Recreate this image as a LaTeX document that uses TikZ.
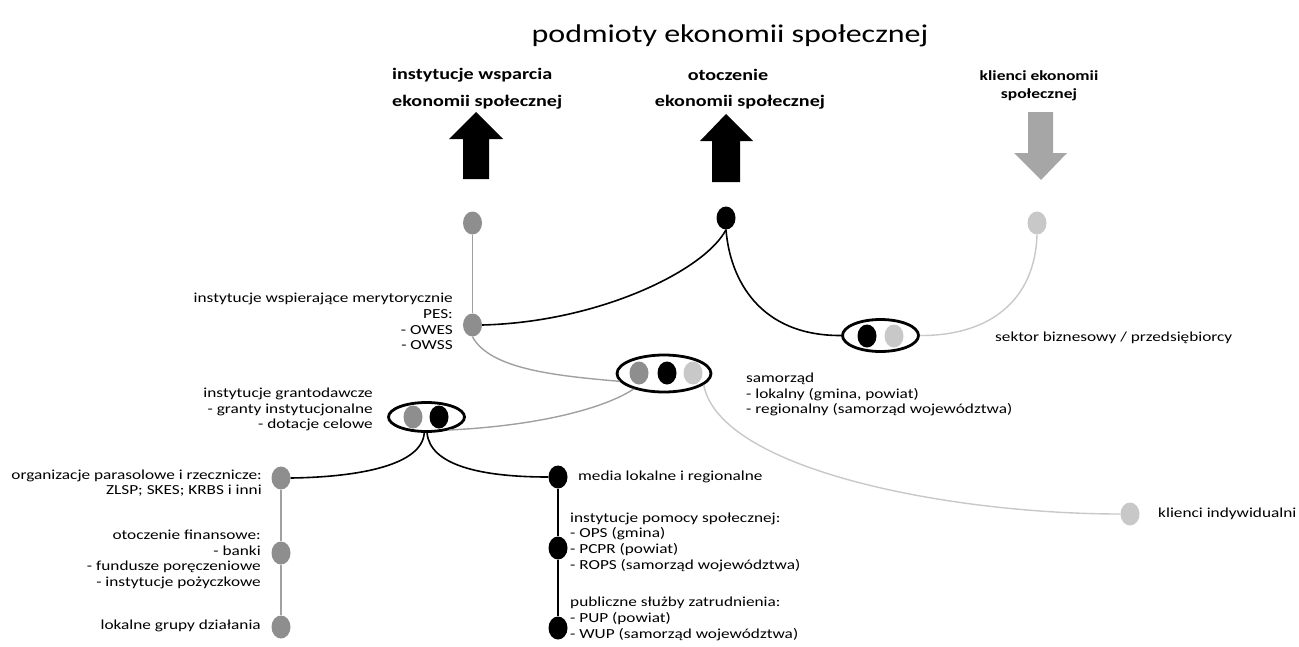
\documentclass[tikz,border=0pt]{standalone}
\usepackage{fontspec}
\setmainfont{Carlito}[FakeStretch=1.25]
\usetikzlibrary{shapes.geometric}
\definecolor{dotgray}{HTML}{8E8E8E}
\definecolor{dotlight}{HTML}{C8C8C8}
\definecolor{linegray}{HTML}{A0A0A0}
\definecolor{linelight}{HTML}{C8C8C8}
\definecolor{arrowgray}{HTML}{A6A6A6}
\begin{document}
\begin{tikzpicture}[x=1pt,y=-1pt,
  dot/.style={ellipse, minimum width=19pt, minimum height=23pt, inner sep=0pt},
  gdot/.style={dot, fill=dotgray},
  bdot/.style={dot, fill=black},
  ldot/.style={dot, fill=dotlight},
  grp/.style={ellipse, draw=black, line width=2.8pt, inner sep=0pt},
  lbl/.style={font=\fontsize{13.8}{15.7}\selectfont, inner sep=0pt},
  hdr/.style={font=\fontsize{16.1}{27}\selectfont\bfseries, inner sep=0pt},
  bline/.style={draw=black, line width=1.6pt},
  gline/.style={draw=linegray, line width=1.4pt},
  lline/.style={draw=linelight, line width=1.4pt},
  bigarrow/.style={fill=black}
]
\useasboundingbox (0,0) rectangle (1299,646);
\clip (0,0) rectangle (1299,646);

% title
\node[inner sep=0pt, font=\fontsize{25.6}{30}\selectfont] (title) at (730,36) {podmioty ekonomii społecznej};

% headers
\node[hdr, anchor=west, align=left] (h1) at (392,88.5) {instytucje wsparcia\\ekonomii społecznej};
\node[hdr] (h2a) at (728,75) {otoczenie};
\node[hdr] (h2b) at (740,102) {ekonomii społecznej};
\node[hdr, font=\fontsize{14}{18}\selectfont\bfseries, align=center] (h3) at (1039,86) {klienci ekonomii\\społecznej};

% big arrows
\fill[bigarrow] (463,179) -- (463,139) -- (449,139) -- (476,112) -- (503,139) -- (489,139) -- (489,179) -- cycle;
\fill[bigarrow] (712,182) -- (712,141) -- (700,141) -- (726,114) -- (753,141) -- (740,141) -- (740,182) -- cycle;
\fill[arrowgray] (1028,112) -- (1028,153) -- (1014,153) -- (1041,180) -- (1067,153) -- (1053,153) -- (1053,112) -- cycle;

% top dots
\node[gdot] (d1) at (472.5,223) {};
\node[bdot] (d2) at (726,218) {};
\node[ldot] (d3) at (1037,223) {};
\node[gdot] (owes) at (472.5,325) {};

% group ellipses
\node[grp, minimum width=94pt, minimum height=37pt] (E3) at (664,373.5) {};
\node[gdot] (e3a) at (639,373) {};
\node[bdot] (e3b) at (667,373) {};
\node[ldot] (e3c) at (693,373) {};

\node[grp, minimum width=76pt, minimum height=32pt] (E2) at (880.5,335.5) {};
\node[bdot] (e2a) at (867,336) {};
\node[ldot] (e2b) at (894,336) {};

\node[grp, minimum width=76pt, minimum height=29pt] (E1) at (426.5,417) {};
\node[gdot] (e1a) at (413,417) {};
\node[bdot] (e1b) at (439,417) {};

% lower dots
\node[gdot] (org) at (281,478) {};
\node[gdot] (fin) at (281,553) {};
\node[gdot] (lgd) at (281,627) {};
\node[bdot] (media) at (558,477) {};
\node[bdot] (ops) at (558,548) {};
\node[bdot] (pup) at (558,628) {};
\node[ldot] (kind) at (1130,514) {};

% connectors
\draw[gline] (d1.south) -- (owes.north);
\draw[bline] (owes.east) .. controls (600,322) and (705,270) .. (d2.south);
\draw[bline] (d2.south) .. controls (730,280) and (760,336) .. (E2.west);
\draw[lline] (E2.east) .. controls (990,336) and (1035,300) .. (d3.south);
\draw[gline] (owes.south) .. controls (490,370) and (560,376) .. (E3.190);
\draw[gline] (E3.207) .. controls (610,405) and (550,425) .. (E1.330);
\draw[lline] (E3.344) .. controls (720,470) and (950,514) .. (kind.west);
\draw[bline] (E1.262) .. controls (422,465) and (360,477) .. (org.east);
\draw[bline] (E1.272) .. controls (430,465) and (480,477) .. (media.west);
\draw[gline] (org.south) -- (fin.north) (fin.south) -- (lgd.north);
\draw[bline] (media.south) -- (ops.north) (ops.south) -- (pup.north);

% labels
\node[lbl, anchor=east, align=right] (lowes) at (453,321.5) {instytucje wspierające merytorycznie\\PES:\\- OWES\\- OWSS};
\node[lbl, anchor=east, align=right] (lgrant) at (373,409.5) {instytucje grantodawcze\\- granty instytucjonalne\\- dotacje celowe};
\node[lbl, anchor=east, align=right] (lorg) at (262,483) {organizacje parasolowe i rzecznicze:\\ZLSP; SKES; KRBS i inni};
\node[lbl, anchor=east, align=right] (lfin) at (261,559.5) {otoczenie finansowe:\\- banki\\- fundusze poręczeniowe\\- instytucje pożyczkowe};
\node[lbl, anchor=east] (llgd) at (261,626) {lokalne grupy działania};
\node[lbl, anchor=west] (lmedia) at (578,477) {media lokalne i regionalne};
\node[lbl, anchor=west, align=left] (lops) at (570,542) {instytucje pomocy społecznej:\\- OPS (gmina)\\- PCPR (powiat)\\- ROPS (samorząd województwa)};
\node[lbl, anchor=west, align=left] (lpup) at (570,619) {publiczne służby zatrudnienia:\\- PUP (powiat)\\- WUP (samorząd województwa)};
\node[lbl, anchor=west, align=left] (lsam) at (746,394.5) {samorząd\\- lokalny (gmina, powiat)\\- regionalny (samorząd województwa)};
\node[lbl, anchor=west] (lsek) at (995,338) {sektor biznesowy / przedsiębiorcy};
\node[lbl, anchor=west] (lkind) at (1158,514) {klienci indywidualni};
\end{tikzpicture}
\end{document}
